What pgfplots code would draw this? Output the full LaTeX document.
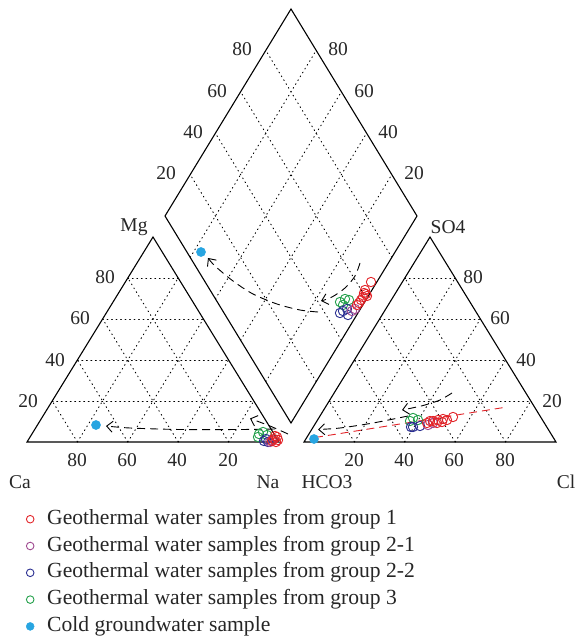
\documentclass[border=0pt]{standalone}
\usepackage{fontspec}
\setmainfont{Liberation Serif}
\usepackage{pgfplots}
\pgfplotsset{compat=1.18}
\usetikzlibrary{calc,arrows.meta}
\definecolor{cRed}{RGB}{226,35,40}
\definecolor{cPur}{RGB}{160,75,145}
\definecolor{cBlu}{RGB}{42,46,145}
\definecolor{cGrn}{RGB}{35,160,75}
\definecolor{cCya}{RGB}{40,165,225}
\tikzset{gridst/.style={line width=0.9pt, dash pattern=on 0.9pt off 3.6pt, line cap=round},
  frame/.style={line width=1.1pt, black, line join=miter},
  arr/.style={line width=0.9pt, black, dash pattern=on 8pt off 5pt, -{Straight Barb[length=6pt,width=11pt]}}}
% data in picture coordinates (x to the right, y downward)
\pgfplotstableread{
x y
274 439
277 437
272 441
276 442
278 440
275 436
365 290
366 294
363 297
361 300
359 303
364 293
367 296
357 305
427 423
433 421
438 420
443 419
442 422
437 423
430 421
447 420
}\grpA
\pgfplotstableread{
x y
270 442
272 440
355 309
352 311
428 425
433 423
}\grpB
\pgfplotstableread{
x y
264 441
268 442
266 439
343 311
348 315
347 309
340 313
413 427
420 426
411 427
}\grpC
\pgfplotstableread{
x y
259 434
263 432
267 435
258 437
340 302
345 299
349 300
343 305
413 418
418 420
410 421
}\grpD
\begin{document}
\begin{tikzpicture}
\begin{axis}[
  width=576pt, height=639pt, scale only axis,
  xmin=0, xmax=576, ymin=0, ymax=639, y dir=reverse,
  hide axis, clip=false,
  legend cell align=left,
  legend style={at={(axis cs:23,506)}, anchor=north west, draw=none, fill=none,
    font=\fontsize{21.6}{24}\selectfont, row sep=4.8pt, text=black!85,
    nodes={inner sep=2pt, text height=14pt, text depth=4pt},
    /tikz/every odd column/.append style={column sep=11pt}},
]
% legend images
\addlegendimage{only marks, mark=o, mark size=3.8pt, cRed, line width=0.9pt}
\addlegendentry{Geothermal water samples from group 1}
\addlegendimage{only marks, mark=o, mark size=3.8pt, cPur, line width=0.9pt}
\addlegendentry{Geothermal water samples from group 2-1}
\addlegendimage{only marks, mark=o, mark size=3.8pt, cBlu, line width=0.9pt}
\addlegendentry{Geothermal water samples from group 2-2}
\addlegendimage{only marks, mark=o, mark size=3.8pt, cGrn, line width=0.9pt}
\addlegendentry{Geothermal water samples from group 3}
\addlegendimage{only marks, mark=*, mark size=4pt, cCya}
\addlegendentry{Cold groundwater sample}

\coordinate (A) at (axis cs:27,442);
\coordinate (B) at (axis cs:279,442);
\coordinate (C) at (axis cs:153,237);
\coordinate (D) at (axis cs:304,442);
\coordinate (E) at (axis cs:556,442);
\coordinate (F) at (axis cs:430,237);
\coordinate (Db) at (axis cs:291,423);
\coordinate (Dl) at (axis cs:165,216);
\coordinate (Dr) at (axis cs:417,216);
\coordinate (Dt) at (axis cs:291,9);

\pgfplotsinvokeforeach{0.2,0.4,0.6,0.8}{
  \draw[gridst] ($(A)!#1!(C)$) -- ($(B)!#1!(C)$);
  \draw[gridst] ($(A)!#1!(B)$) -- ($(C)!#1!(B)$);
  \draw[gridst] ($(B)!#1!(A)$) -- ($(C)!#1!(A)$);
  \draw[gridst] ($(D)!#1!(F)$) -- ($(E)!#1!(F)$);
  \draw[gridst] ($(D)!#1!(E)$) -- ($(F)!#1!(E)$);
  \draw[gridst] ($(E)!#1!(D)$) -- ($(F)!#1!(D)$);
  \draw[gridst] ($(Db)!#1!(Dl)$) -- ($(Dr)!#1!(Dt)$);
  \draw[gridst] ($(Db)!#1!(Dr)$) -- ($(Dl)!#1!(Dt)$);
}
\draw[frame] (A) -- (B) -- (C) -- cycle;
\draw[frame] (D) -- (E) -- (F) -- cycle;
\draw[frame] (Db) -- (Dl) -- (Dt) -- (Dr) -- cycle;

% trend lines
\addplot[forget plot, cRed, line width=0.9pt, dash pattern=on 8pt off 5pt] coordinates {(315,437.5) (507,407)};
\addplot[forget plot, arr, smooth] coordinates {(275,429) (240,429.5) (180,429.5) (130,428) (106,426)};
\addplot[forget plot, arr, smooth] coordinates {(288,434) (270,426) (250,418.5)};
\addplot[forget plot, arr, smooth] coordinates {(318,312) (300,310) (277,304) (253,294) (233,281) (215,266) (208,258)};
\addplot[forget plot, arr, smooth] coordinates {(360,263) (355,276) (345,288) (332,297) (321,301)};
\addplot[forget plot, arr, smooth] coordinates {(452,393) (440,400) (425,405) (412,408) (402,410)};
\addplot[forget plot, arr, smooth] coordinates {(408,416) (373,423) (340,428) (318,429.5)};

% samples
\addplot[forget plot, only marks, mark=o, mark size=4.7pt, cGrn, line width=0.9pt] table {\grpD};
\addplot[forget plot, only marks, mark=o, mark size=4.7pt, cBlu, line width=0.9pt] table {\grpC};
\addplot[forget plot, only marks, mark=o, mark size=4.7pt, cPur, line width=0.9pt] table {\grpB};
\addplot[forget plot, only marks, mark=o, mark size=4.7pt, cRed, line width=0.9pt] table {\grpA};
\addplot[forget plot, only marks, mark=o, mark size=4.7pt, cRed, line width=0.9pt] coordinates {(371,282) (453,417)};
\addplot[forget plot, only marks, mark=*, mark size=4.6pt, cCya] coordinates {(96,425) (201,252) (314,439)};

% labels
\begin{scope}[font=\fontsize{19.5}{22}\selectfont, text=black!85]
\node at (axis cs:134,227) {Mg};
\node at (axis cs:20,482) {Ca};
\node at (axis cs:268,482) {Na};
\node at (axis cs:327,482) {HCO3};
\node at (axis cs:566,482) {Cl};
\node at (axis cs:448,227) {SO4};
\node at (axis cs:28,401) {20};
\node at (axis cs:55,360) {40};
\node at (axis cs:80,318) {60};
\node at (axis cs:105,277) {80};
\node at (axis cs:77,460) {80};
\node at (axis cs:127,460) {60};
\node at (axis cs:177,460) {40};
\node at (axis cs:228,460) {20};
\node at (axis cs:354,460) {20};
\node at (axis cs:404,460) {40};
\node at (axis cs:454,460) {60};
\node at (axis cs:505,460) {80};
\node at (axis cs:473,277) {80};
\node at (axis cs:500,318) {60};
\node at (axis cs:526,360) {40};
\node at (axis cs:552,401) {20};
\node at (axis cs:242,49) {80};
\node at (axis cs:217,91) {60};
\node at (axis cs:193,132) {40};
\node at (axis cs:166,173) {20};
\node at (axis cs:338,49) {80};
\node at (axis cs:364,91) {60};
\node at (axis cs:388,132) {40};
\node at (axis cs:414,173) {20};
\end{scope}
\end{axis}
\pgfresetboundingbox
\path (current axis.south west) rectangle (current axis.north east);
\end{tikzpicture}
\end{document}
